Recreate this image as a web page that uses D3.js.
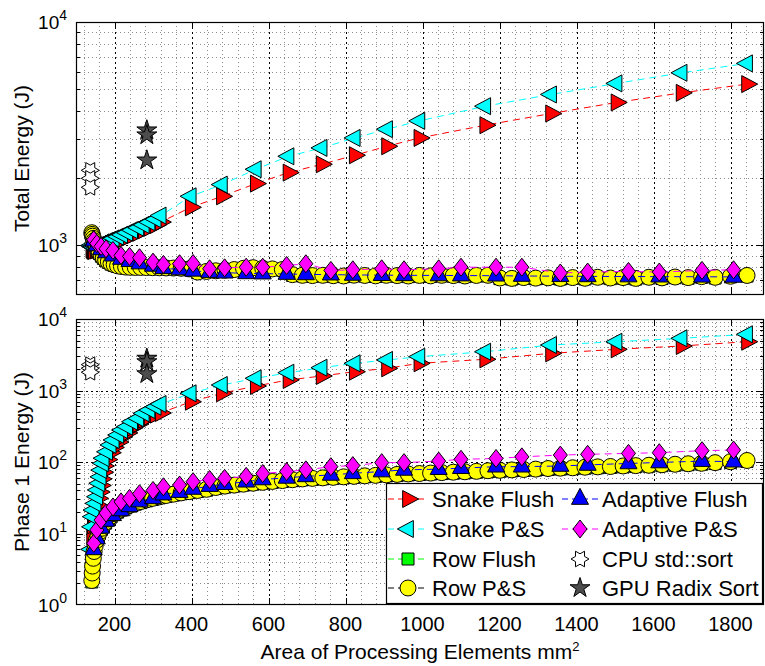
<!DOCTYPE html>
<meta charset="utf-8">
<title>Energy vs area of processing elements</title>
<script src="https://d3js.org/d3.v7.min.js"></script>
<style>
body { margin: 0; background: #fff; }
text { font-family: "Liberation Sans", Arial, Helvetica, sans-serif; fill: #000; }
</style>
<body>
<div id="chart"></div>
<script>
// values (x = area in mm^2, y = energy in J)
var snakeX = [140,142,144,146,151,155,157,161,164,166,170,172,181,190,198,210,220,233,246,262,276,291,307,320,
  398,479,567,652,738,824,908,992,1163,1334,1504,1673,1843];
var snakeFlushTotal = [960,950,945,945,950,955,960,965,970,975,985,990,1000,1015,1030,1045,1060,1085,1110,1140,1170,1200,1235,1272,
  1481,1659,1891,2118,2308,2533,2779,3028,3452,3895,4364,4819,5272];
var snakePSTotal = [1000,990,985,985,990,995,1000,1005,1010,1015,1025,1030,1045,1060,1075,1095,1115,1140,1170,1200,1235,1270,1310,1360,
  1659,1872,2192,2506,2732,3028,3313,3609,4200,4740,5311,5924,6528];
var snakeFlushP1 = [5,9,13,16,20,25,31,38,47,58,72,88,108,135,160,190,225,255,300,340,390,430,460,485,
  697,914,1156,1403,1596,1832,2044,2401,2731,3311,3767,4193,4813];
var snakePSP1 = [6,12.4,17.2,21.3,26.4,32.7,40.6,50.4,62,77,96,113,139,173,203,239,280,312,366,408,480,533,593,647,
  914,1194,1480,1774,2084,2401,2673,2971,3490,4328,4813,5370,6110];

var rowX = [141,142,143,145,147,150,153,157,161,166,
  171,177,184,191,199,208,218,229,241,254,
  268,283,299,316,334,353,373,394,416,439,
  463,487,511,535,560,585,610,636,662,688,
  714,741,768,795,822,850,878,906,934,963,
  992,1021,1050,1080,1110,1140,1170,1201,1232,1263,
  1294,1326,1358,1390,1422,1455,1488,1521,1554,1588,
  1622,1656,1690,1725,1760,1800,1843];
var rowPSTotal = [1140,1120,1100,1075,1050,1020,990,960,930,900,
  880,860,845,830,820,810,805,800,798,797,
  797,796,795,794,793,792,790,785,760,765,
  770,775,780,790,795,790,785,780,740,735,
  733,735,732,730,736,734,731,735,733,730,
  734,731,735,733,730,734,735,715,712,718,
  714,716,712,718,713,720,715,718,712,720,
  716,722,718,725,720,728,734];
var rowFlushTotal = [1130,1110,1090,1065,1040,1010,980,950,920,895,
  875,855,840,825,815,805,800,795,793,792,
  792,791,790,789,788,787,785,780,755,760,
  765,770,775,785,790,785,780,775,735,730,
  728,730,727,725,731,729,726,730,728,725,
  729,726,730,728,725,729,730,710,707,713,
  709,711,707,713,708,715,710,713,707,715,
  711,717,713,720,715,723,729];
var rowPSP1 = [2.2,2.8,3.5,4.5,5.6,6.8,8,9.2,10.5,11.8,
  13,14.5,16,17.5,19,20.5,22,23.5,25,26.5,
  28,29.5,31,32.5,34,35.5,37,38.5,40,41.5,
  44,46,47.5,49,50.5,52,53.5,55,56.5,58,
  59,60,61,62,63,64,65,66,67,68,
  69,70,71,72,73,74,75.5,76.5,77.5,78.5,
  79.5,81,82,83,84.5,85.5,86.5,88,89,90,
  91.5,93,94.5,96,98,101,105];
var rowFlushP1 = [2.1,2.7,3.4,4.3,5.4,6.5,7.7,8.9,10.1,11.4,
  12.6,14,15.5,17,18.4,19.9,21.3,22.8,24.2,25.7,
  27,28.6,30,31.5,33,34.4,35.9,37.3,38.8,40.3,
  42.7,44.6,46,47.5,49,50.4,51.9,53.3,54.8,56.3,
  57.2,58.2,59.2,60.1,61.1,62.1,63,64,65,66,
  66.9,67.9,68.9,69.8,70.8,71.8,73.2,74.2,75.2,76.1,
  77.1,78.6,79.5,80.5,82,82.9,83.9,85.4,86.3,87.3,
  88.8,90.2,91.7,93.1,95,98,101.9];

var adaptiveX = [146,154,165,178,196,217,239,265,300,327,
  369,404,447,486,542,585,647,697,762,819,
  894,952,1042,1100,1191,1258,1358,1429,1535,1615,
  1726,1808];
var adPSTotal = [1060,1020,990,966,950,902,893,881,842,822,
  828,830,786,794,799,799,813,828,773,778,
  786,778,786,799,799,799,753,760,765,760,
  773,778];
var adFlushTotal = [1050,1000,960,930,900,870,850,830,810,790,
  780,770,760,755,750,748,745,742,740,738,
  736,735,734,733,732,730,728,727,726,725,
  724,723];
var adPSP1 = [7.3,11.2,15.4,19.3,23.5,27.7,31,36,40,45,
  47.6,53,57,59,63,69,73.6,77.6,86,89,
  98,98,103,109,112,118,125,128,132,135,
  144,147];
var adFlushP1 = [6,8.5,12,15,18,21,24,28,31,35,
  38,42,46,49,53,57,60,63,66,69.5,
  73.6,77.6,79.4,82,86,86,88,91,95.5,98.5,
  103,101];

var cpuX = [137,137,137];
var cpuTotal = [2168,1997,1820];
var cpuP1 = [2300,2050,1800];
var gpuX = [284,284,284];
var gpuTotal = [3279,3115,2405];
var gpuP1 = [2800,2500,1700];

var xTicks = [200,400,600,800,1000,1200,1400,1600,1800];

var series = [
  {name: "Snake Flush", x: snakeX, total: snakeFlushTotal, p1: snakeFlushP1, line: "#ff0000", fill: "#ff0000", shape: "right"},
  {name: "Snake P&S", x: snakeX, total: snakePSTotal, p1: snakePSP1, line: "#00ffff", fill: "#00ffff", shape: "left"},
  {name: "Row Flush", x: rowX, total: rowFlushTotal, p1: rowFlushP1, line: "#00ff00", fill: "#00ff00", shape: "square"},
  {name: "Row P&S", x: rowX, total: rowPSTotal, p1: rowPSP1, line: "#000000", fill: "#ffff00", shape: "circle"},
  {name: "Adaptive Flush", x: adaptiveX, total: adFlushTotal, p1: adFlushP1, line: "#0000ff", fill: "#0000ff", shape: "up"},
  {name: "Adaptive P&S", x: adaptiveX, total: adPSTotal, p1: adPSP1, line: "#ff00ff", fill: "#ff00ff", shape: "diamond"},
  {name: "CPU std::sort", x: cpuX, total: cpuTotal, p1: cpuP1, line: null, fill: "#ffffff", shape: "hexagram"},
  {name: "GPU Radix Sort", x: gpuX, total: gpuTotal, p1: gpuP1, line: null, fill: "#4d4d4d", shape: "pentagram"}
];

var W = 765, H = 666;
var left = 76, right = 764;

var svg = d3.select("#chart").append("svg")
  .attr("width", W)
  .attr("height", H);

var x = d3.scaleLinear().domain([100, 1887]).range([left, right]);

var panels = [
  {top: 22, bottom: 295, domain: [600, 1e4], key: "total", label: "Total Energy (J)", labels: false},
  {top: 319, bottom: 605, domain: [1, 1e4], key: "p1", label: "Phase 1 Energy (J)", labels: true}
];

function star(n, R, r, rot) {
  var pts = [];
  for (var i = 0; i < 2 * n; i++) {
    var a = rot + i * Math.PI / n, rr = i % 2 ? r : R;
    pts.push((rr * Math.cos(a)).toFixed(2) + "," + (rr * Math.sin(a)).toFixed(2));
  }
  return "M" + pts.join("L") + "Z";
}

// marker shapes (triangles centred on their centroid)
function markerPath(shape) {
  var h = 16, b = 17;
  switch (shape) {
    case "right": return "M" + (2*h/3) + ",0L" + (-h/3) + "," + (-b/2) + "L" + (-h/3) + "," + (b/2) + "Z";
    case "left": return "M" + (-2*h/3) + ",0L" + (h/3) + "," + (-b/2) + "L" + (h/3) + "," + (b/2) + "Z";
    case "up": return "M0," + (-2*h/3) + "L" + (b/2) + "," + (h/3) + "L" + (-b/2) + "," + (h/3) + "Z";
    case "diamond": return "M0,-9L7,0L0,9L-7,0Z";
    case "square": return "M-6,-6H6V6H-6Z";
    case "circle": return d3.symbol(d3.symbolCircle, 201)();
    case "hexagram": return star(6, 9, 5.2, 0);
    case "pentagram": return star(5, 10.5, 4.0, -Math.PI / 2);
  }
}

panels.forEach(function(p) {
  var y = d3.scaleLog().domain(p.domain).range([p.bottom, p.top]);
  var g = svg.append("g");

  // minor grid
  var minorX = d3.range(120, 1887, 40).filter(function(v) { return v % 200 !== 0; });
  var minorY = [], majorY = [];
  for (var k = 0; k <= 4; k++) {
    var dec = Math.pow(10, k);
    if (dec > p.domain[0] && dec < p.domain[1]) majorY.push(dec);
    for (var m = 2; m <= 9; m++) {
      var v = m * dec;
      if (v > p.domain[0] && v < p.domain[1]) minorY.push(v);
    }
  }
  g.selectAll(".gmx").data(minorX).enter().append("line")
    .attr("x1", function(d) { return Math.round(x(d)) + 0.5; }).attr("x2", function(d) { return Math.round(x(d)) + 0.5; })
    .attr("y1", p.top).attr("y2", p.bottom)
    .attr("stroke", "#8c8c8c").attr("stroke-dasharray", "1,3");
  g.selectAll(".gmy").data(minorY).enter().append("line")
    .attr("x1", left).attr("x2", right)
    .attr("y1", function(d) { return Math.round(y(d)) + 0.5; }).attr("y2", function(d) { return Math.round(y(d)) + 0.5; })
    .attr("stroke", "#8c8c8c").attr("stroke-dasharray", "1,3");
  // major grid
  g.selectAll(".gx").data(xTicks).enter().append("line")
    .attr("x1", function(d) { return Math.round(x(d)) + 0.5; }).attr("x2", function(d) { return Math.round(x(d)) + 0.5; })
    .attr("y1", p.top).attr("y2", p.bottom)
    .attr("stroke", "#000").attr("stroke-dasharray", "2,3");
  g.selectAll(".gy").data(majorY).enter().append("line")
    .attr("x1", left).attr("x2", right)
    .attr("y1", function(d) { return Math.round(y(d)) + 0.5; }).attr("y2", function(d) { return Math.round(y(d)) + 0.5; })
    .attr("stroke", "#000").attr("stroke-dasharray", "2,3");

  // ticks, inward on all four sides
  var tk = g.append("g").attr("stroke", "#000");
  xTicks.forEach(function(t) {
    var xx = Math.round(x(t)) + 0.5;
    tk.append("line").attr("x1", xx).attr("x2", xx).attr("y1", p.bottom).attr("y2", p.bottom - 7);
    tk.append("line").attr("x1", xx).attr("x2", xx).attr("y1", p.top).attr("y2", p.top + 7);
  });
  majorY.concat(minorY).forEach(function(t) {
    var yy = Math.round(y(t)) + 0.5, len = majorY.indexOf(t) >= 0 ? 7 : 4;
    tk.append("line").attr("x1", left).attr("x2", left + len).attr("y1", yy).attr("y2", yy);
    tk.append("line").attr("x1", right).attr("x2", right - len).attr("y1", yy).attr("y2", yy);
  });

  // data: dashed line then markers, series by series
  series.forEach(function(s) {
    var pts = s.x.map(function(v, i) { return [v, s[p.key][i]]; });
    if (s.line) {
      g.append("path")
        .attr("d", d3.line().x(function(d) { return x(d[0]); }).y(function(d) { return y(d[1]); })(pts))
        .attr("fill", "none").attr("stroke", s.line).attr("stroke-width", 1)
        .attr("stroke-dasharray", "7,5");
    }
    g.append("g").selectAll("path").data(pts).enter().append("path")
      .attr("d", markerPath(s.shape))
      .attr("transform", function(d) { return "translate(" + x(d[0]) + "," + y(d[1]) + ")"; })
      .attr("fill", s.fill).attr("stroke", "#000").attr("stroke-width", 1);
  });

  // axes box
  g.append("rect")
    .attr("x", left + 0.5).attr("y", p.top + 0.5)
    .attr("width", right - left - 1).attr("height", p.bottom - p.top - 1)
    .attr("fill", "none").attr("stroke", "#000").attr("stroke-width", 1.2);

  // y tick labels 10^k
  majorY.concat([p.domain[0] >= 1 && Math.log10(p.domain[0]) % 1 === 0 ? p.domain[0] : null, p.domain[1]])
    .filter(function(d) { return d !== null; })
    .forEach(function(d) {
      var t = g.append("text").attr("x", 67).attr("y", y(d) + 7).attr("text-anchor", "end").style("font-size", "19px");
      t.append("tspan").text("10");
      t.append("tspan").attr("dy", -9).style("font-size", "14px").text(Math.round(Math.log10(d)));
    });

  // x tick labels only under the lower panel
  if (p.labels) {
    g.selectAll(".xl").data(xTicks).enter().append("text")
      .attr("x", function(d) { return x(d); })
      .attr("y", p.bottom + 26)
      .attr("text-anchor", "middle")
      .style("font-size", "20px")
      .text(function(d) { return d; });
  }

  // y axis title
  g.append("text")
    .attr("transform", "translate(29," + ((p.top + p.bottom) / 2) + ") rotate(-90)")
    .attr("text-anchor", "middle")
    .style("font-size", "21px")
    .text(p.label);
});

// x axis title
var xt = svg.append("text")
  .attr("x", 420).attr("y", 659)
  .attr("text-anchor", "middle")
  .style("font-size", "21px");
xt.append("tspan").text("Area of Processing Elements mm");
xt.append("tspan").attr("dy", -8).style("font-size", "13px").text("2");

// legend
var lg = svg.append("g");
lg.append("rect")
  .attr("x", 386.5).attr("y", 483.5).attr("width", 376).attr("height", 120)
  .attr("fill", "#fff").attr("stroke", "#000").attr("stroke-width", 1.2);
var rowY = [499, 529, 559, 588];
series.forEach(function(s, i) {
  var col = Math.floor(i / 4), yy = rowY[i % 4];
  var x0 = col ? 562 : 388, x1 = col ? 598 : 428, mx = col ? 580 : 408, tx = col ? 602 : 432;
  if (s.line) {
    lg.append("line").attr("x1", x0).attr("x2", x1).attr("y1", yy).attr("y2", yy)
      .attr("stroke", s.line).attr("stroke-dasharray", "6,4");
  }
  lg.append("path").attr("d", markerPath(s.shape))
    .attr("transform", "translate(" + mx + "," + yy + ")")
    .attr("fill", s.fill).attr("stroke", "#000");
  lg.append("text").attr("x", tx).attr("y", yy + 7.5)
    .style("font-size", "22px")
    .text(s.name);
});
</script>
</body>
